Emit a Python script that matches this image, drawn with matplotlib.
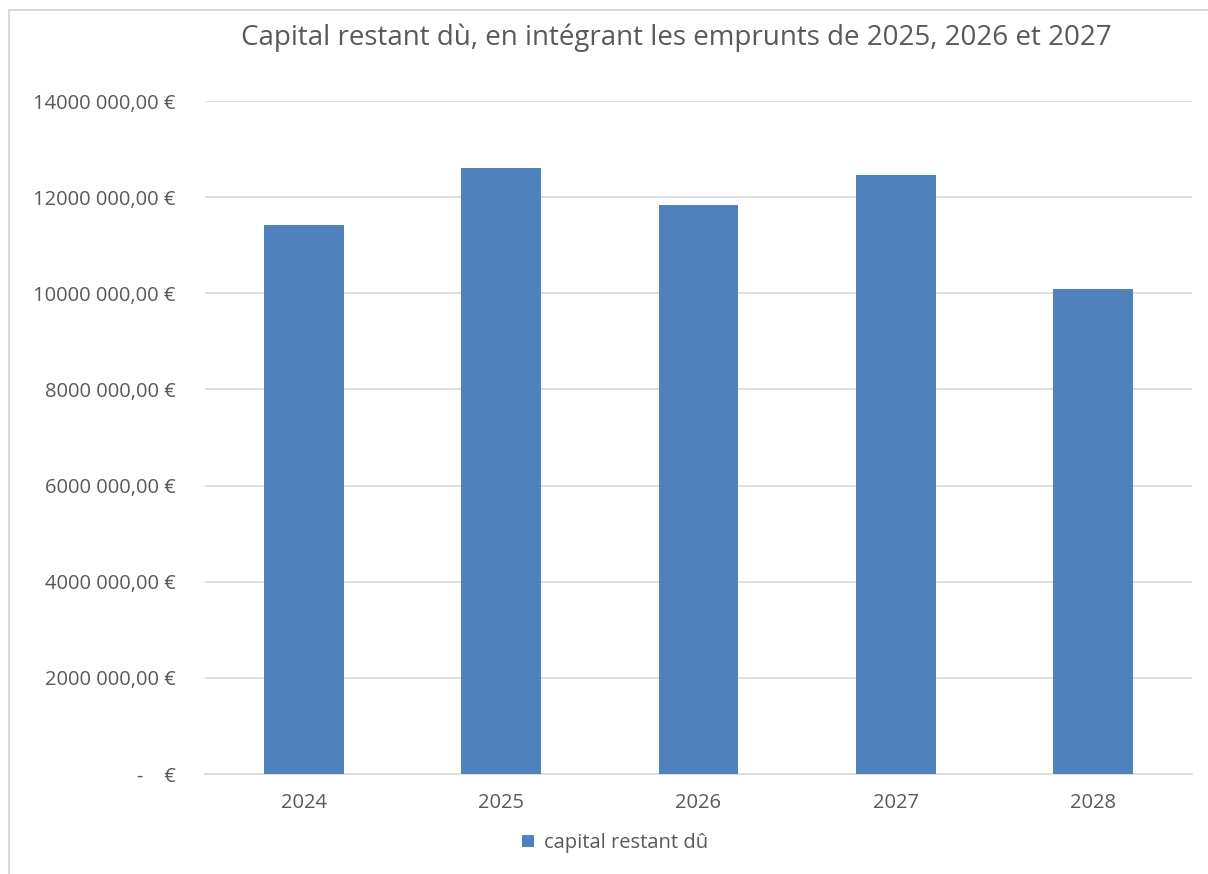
import matplotlib

matplotlib.use("Agg")
import matplotlib.pyplot as plt
from matplotlib.patches import Rectangle
from matplotlib.ticker import FuncFormatter

YEARS = ["2024", "2025", "2026", "2027", "2028"]
CAPITAL = [11420000, 12600000, 11830000, 12470000, 10080000]
Y_TICKS = [0, 2000000, 4000000, 6000000, 8000000, 10000000, 12000000, 14000000]

BAR_COLOR = "#4F81BD"
TEXT_COLOR = "#595959"
GRID_COLOR = "#D9D9D9"

plt.rcParams["font.family"] = ["Open Sans", "DejaVu Sans"]


def euro_fmt(v, _pos):
    if v == 0:
        return "-    €"
    m = int(round(v)) // 1000
    head, tail = divmod(m, 1000)
    return f"{head}{tail:03d} 000,00 €" if head else f"{tail} 000,00 €"


fig = plt.figure(figsize=(12.08, 8.74), dpi=100)
ax = fig.add_axes([205 / 1208, 1 - 774 / 874, (1192 - 205) / 1208, (774 - 101) / 874])

x = range(len(YEARS))
ax.bar(x, CAPITAL, width=0.405, color=BAR_COLOR, label="capital restant dû", zorder=3)

ax.set_xlim(-0.5, len(YEARS) - 0.5)
ax.set_ylim(0, 14000000)
ax.set_xticks(list(x), YEARS)
ax.set_yticks(Y_TICKS)
ax.yaxis.set_major_formatter(FuncFormatter(euro_fmt))
ax.grid(True, axis="y", color=GRID_COLOR, linewidth=1.2, zorder=0)
for side in ["top", "right", "left"]:
    ax.spines[side].set_visible(False)
ax.spines["bottom"].set_color(GRID_COLOR)
ax.spines["bottom"].set_linewidth(1.2)
ax.tick_params(length=0, labelsize=14.5, colors=TEXT_COLOR)
ax.tick_params(axis="y", pad=21)
ax.tick_params(axis="x", pad=14)

fig.text(0.5 * (240 + 1113) / 1208, 1 - 38 / 874,
         "Capital restant dù, en intégrant les emprunts de 2025, 2026 et 2027",
         ha="center", va="center", fontsize=20, color=TEXT_COLOR)

leg = fig.legend(*ax.get_legend_handles_labels(), loc="center",
                 bbox_to_anchor=(615 / 1208, 1 - 843 / 874), frameon=False,
                 fontsize=14.5, handlelength=0.6, handleheight=0.6, handletextpad=0.5)
for t in leg.get_texts():
    t.set_color(TEXT_COLOR)

# outer chart frame (cut off at right and bottom)
fig.patches.append(Rectangle((9 / 1208, -0.05), 1.2, 1 - 10 / 874 + 0.05,
                             transform=fig.transFigure, fill=False,
                             edgecolor=GRID_COLOR, linewidth=1.5))

fig.savefig("out.png", dpi=100)
